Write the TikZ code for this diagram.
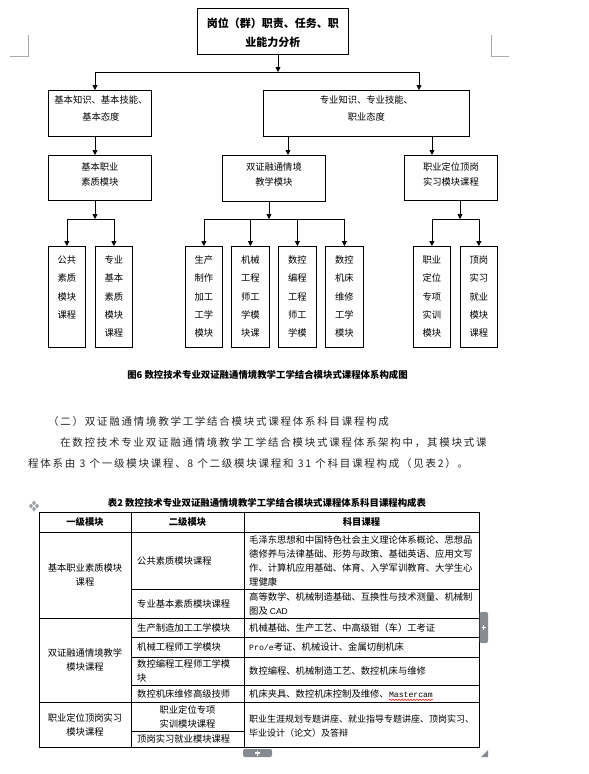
\documentclass[tikz,border=0pt]{standalone}
\usepackage{fontspec}
\setmainfont{Noto Sans CJK SC}
\newfontfamily\monofont{Liberation Mono}
\newfontfamily\arialfont{Liberation Sans}
\usetikzlibrary{arrows.meta,decorations.pathmorphing}
\definecolor{tabgray}{HTML}{868B92}
\definecolor{markgray}{HTML}{AAAAAA}
\definecolor{bodytext}{HTML}{262626}
\newcommand{\ptsize}[2]{\fontsize{#1}{#2}\selectfont}

\begin{document}
\begin{tikzpicture}[x=1pt,y=-1pt,
  box/.style={draw,line width=0.8pt,inner sep=0pt,anchor=north west},
  boxtext/.style={anchor=north,align=center,inner sep=0pt,font=\ptsize{9.3}{17}},
  leaftext/.style={boxtext,font=\ptsize{9.3}{18.3}},
  arr/.style={line width=0.8pt,-{Triangle[length=5pt,width=5pt]}},
  link/.style={line width=0.8pt},
  capline/.style={inner sep=0pt,font=\ptsize{9.4}{12}\bfseries},
  para/.style={anchor=west,inner sep=0pt,text=bodytext,font=\ptsize{10.5}{13}\addfontfeatures{LetterSpace=16.5}},
  cell/.style={anchor=west,align=left,inner sep=0pt,font=\ptsize{9.3}{14}},
  ccell/.style={cell,anchor=center,align=center},
  headcell/.style={ccell,font=\ptsize{9.3}{14}\bfseries},
  tablerule/.style={line width=0.8pt},
  cropmark/.style={markgray,line width=0.8pt},
  wavy/.style={red,line width=0.5pt,decorate,decoration={snake,amplitude=0.7pt,segment length=3pt}},
]
  \fill[white] (0,0) rectangle (589,774);
  \useasboundingbox (0,0) rectangle (589,774);

  \draw[cropmark] (28,35) -- (28,56) -- (10,56);
  \draw[cropmark] (491,35) -- (491,56) -- (509,56);

  \node[box,minimum width=151pt,minimum height=46pt] (duty) at (197,8) {};
  \node[boxtext,font=\ptsize{11}{19}\bfseries] (dutyt) at ([yshift=-9.8pt]duty.north) {岗位（群）职责、任务、职\\业能力分析};

  \node[box,minimum width=103pt,minimum height=46pt] (basic) at (48,90) {};
  \node[boxtext] (basict) at ([yshift=-5.6pt,xshift=1pt]basic.north) {基本知识、基本技能、\\基本态度};
  \node[box,minimum width=206pt,minimum height=46pt] (prof) at (263,90) {};
  \node[boxtext] (proft) at ([yshift=-5.6pt]prof.north) {专业知识、专业技能、\\职业态度};

  \node[box,minimum width=103pt,minimum height=45pt] (basicmod) at (48,155) {};
  \node[boxtext,font=\ptsize{9.3}{15}] (basicmodt) at ([yshift=-7.6pt]basicmod.north) {基本职业\\素质模块};
  \node[box,minimum width=103pt,minimum height=46pt] (dual) at (222,155) {};
  \node[boxtext,font=\ptsize{9.3}{15}] (dualt) at ([yshift=-7.6pt]dual.north) {双证融通情境\\教学模块};
  \node[box,minimum width=93pt,minimum height=45pt] (intern) at (404,155) {};
  \node[boxtext,font=\ptsize{9.3}{15}] (internt) at ([yshift=-7.6pt]intern.north) {职业定位顶岗\\实习模块课程};

  \node[box,minimum width=37pt,minimum height=101pt] (pub) at (48,246) {};
  \node[leaftext] (pubt) at ([yshift=-9.6pt]pub.north) {公共\\素质\\模块\\课程};
  \node[box,minimum width=37pt,minimum height=101pt] (major) at (95,246) {};
  \node[leaftext] (majort) at ([yshift=-9.6pt]major.north) {专业\\基本\\素质\\模块\\课程};
  \node[box,minimum width=37pt,minimum height=101pt] (prod) at (185,246) {};
  \node[leaftext] (prodt) at ([yshift=-9.6pt]prod.north) {生产\\制作\\加工\\工学\\模块};
  \node[box,minimum width=38pt,minimum height=101pt] (mech) at (231,246) {};
  \node[leaftext] (mecht) at ([yshift=-9.6pt]mech.north) {机械\\工程\\师工\\学模\\块课};
  \node[box,minimum width=38pt,minimum height=101pt] (prog) at (278,246) {};
  \node[leaftext] (progt) at ([yshift=-9.6pt]prog.north) {数控\\编程\\工程\\师工\\学模};
  \node[box,minimum width=38pt,minimum height=101pt] (repair) at (325,246) {};
  \node[leaftext] (repairt) at ([yshift=-9.6pt]repair.north) {数控\\机床\\维修\\工学\\模块};
  \node[box,minimum width=37pt,minimum height=101pt] (train) at (413,246) {};
  \node[leaftext] (traint) at ([yshift=-9.6pt]train.north) {职业\\定位\\专项\\实训\\模块};
  \node[box,minimum width=37pt,minimum height=101pt] (job) at (460,246) {};
  \node[leaftext] (jobt) at ([yshift=-9.6pt]job.north) {顶岗\\实习\\就业\\模块\\课程};

  \coordinate (j0) at (278,72);
  \coordinate (j0l) at (95,72);
  \coordinate (j0r) at (419,72);
  \coordinate (d0) at (95,0);
  \coordinate (d1) at (288,0);
  \coordinate (d2) at (432,0);
  \coordinate (j1) at (95,219);
  \coordinate (j2) at (269,219);
  \coordinate (j3) at (460,219);

  \draw[arr] (duty.south -| j0) -- (j0);
  \draw[link] (j0l) -- (j0r);
  \draw[arr] (j0l) -- (basic.north -| j0l);
  \draw[arr] (j0r) -- (prof.north -| j0r);
  \draw[arr] (basic.south -| d0) -- (basicmod.north -| d0);
  \draw[arr] (prof.south -| d1) -- (dual.north -| d1);
  \draw[arr] (prof.south -| d2) -- (intern.north -| d2);

  \draw[arr] (basicmod.south -| j1) -- (j1);
  \draw[link] (pub.north |- j1) -- (major.north |- j1);
  \draw[arr] (pub.north |- j1) -- (pub.north);
  \draw[arr] (major.north |- j1) -- (major.north);

  \draw[arr] (dual.south -| j2) -- (j2);
  \draw[link] (prod.north |- j2) -- (repair.north |- j2);
  \draw[arr] (prod.north |- j2) -- (prod.north);
  \draw[arr] (mech.north |- j2) -- (mech.north);
  \draw[arr] (prog.north |- j2) -- (prog.north);
  \draw[arr] (repair.north |- j2) -- (repair.north);

  \draw[arr] (intern.south -| j3) -- (j3);
  \draw[link] (train.north |- j3) -- (job.north |- j3);
  \draw[arr] (train.north |- j3) -- (train.north);
  \draw[arr] (job.north |- j3) -- (job.north);

  \node[capline] (figcap) at (267.5,375) {图6 数控技术专业双证融通情境教学工学结合模块式课程体系构成图};

  \node[para] (sec) at (48,422) {（二）双证融通情境教学工学结合模块式课程体系科目课程构成};
  \node[para] (body1) at (60,443) {在数控技术专业双证融通情境教学工学结合模块式课程体系架构中，其模块式课};
  \node[para] (body2) at (28,464) {程体系由\hspace{4.2pt}3\hspace{4.2pt}个一级模块课程、8\hspace{4.2pt}个二级模块课程和\hspace{4.2pt}31\hspace{4.2pt}个科目课程构成（见表2）。};

  \node[capline] (tabcap) at (267,503) {表2 数控技术专业双证融通情境教学工学结合模块式课程体系科目课程构成表};
  \fill[tabgray!80] (34,500.5) -- (36,503) -- (34,505.5) -- (32,503) -- cycle;
  \fill[tabgray!80] (34,506.5) -- (36,509) -- (34,511.5) -- (32,509) -- cycle;
  \fill[tabgray!80] (31,503.5) -- (33,506) -- (31,508.5) -- (29,506) -- cycle;
  \fill[tabgray!80] (37,503.5) -- (39,506) -- (37,508.5) -- (35,506) -- cycle;

  \draw[tablerule] (39,512) rectangle (479,747);
  \draw[tablerule] (131,512) -- (131,747);
  \draw[tablerule] (244,512) -- (244,747);
  \draw[tablerule] (39,532) -- (479,532);
  \draw[tablerule] (39,618) -- (479,618);
  \draw[tablerule] (39,702) -- (479,702);
  \draw[tablerule] (131,589) -- (479,589);
  \draw[tablerule] (131,637) -- (479,637);
  \draw[tablerule] (131,657) -- (479,657);
  \draw[tablerule] (131,685) -- (479,685);
  \draw[tablerule] (131,731) -- (244,731);

  \node[headcell] (h1) at (85,522) {一级模块};
  \node[headcell] (h2) at (187.5,522) {二级模块};
  \node[headcell] (h3) at (361.5,522) {科目课程};

  \node[ccell] (g1) at (85,575) {基本职业素质模块\\课程};
  \node[cell] (s1) at (137,560.5) {公共素质模块课程};
  \node[cell] (s2) at (137,603.5) {专业基本素质模块课程};
  \node[cell] (k1) at (249,560.5) {毛泽东思想和中国特色社会主义理论体系概论、思想品\\德修养与法律基础、形势与政策、基础英语、应用文写\\作、计算机应用基础、体育、入学军训教育、大学生心\\理健康};
  \node[cell] (k2) at (249,603.5) {高等数学、机械制造基础、互换性与技术测量、机械制\\图及 {\arialfont\ptsize{8.5}{14}CAD}};

  \node[ccell] (g2) at (85,660) {双证融通情境教学\\模块课程};
  \node[cell] (s3) at (137,627.5) {生产制造加工工学模块};
  \node[cell] (s4) at (137,647) {机械工程师工学模块};
  \node[cell] (s5) at (137,671) {数控编程工程师工学模\\块};
  \node[cell] (s6) at (137,693.5) {数控机床维修高级技师};
  \node[cell] (k3) at (249,627.5) {机械基础、生产工艺、中高级钳（车）工考证};
  \node[cell] (k4) at (249,647) {{\monofont\ptsize{8.2}{14}Pro/e}考证、机械设计、金属切削机床};
  \node[cell] (k5) at (249,671) {数控编程、机械制造工艺、数控机床与维修};
  \node[cell] (k6) at (249,693.5) {机床夹具、数控机床控制及维修、};
  \node[cell,anchor=base west] (mcam) at (k6.base east) {\monofont\ptsize{8.1}{14}Mastercam};
  \draw[wavy] ([yshift=-2.5pt]mcam.south west) -- ([yshift=-2.5pt]mcam.south east);

  \node[ccell] (g3) at (85,725) {职业定位顶岗实习\\模块课程};
  \node[ccell] (s7) at (187.5,716.5) {职业定位专项\\实训模块课程};
  \node[cell] (s8) at (137,739) {顶岗实习就业模块课程};
  \node[cell,font=\ptsize{9}{14}] (k7) at (249,726) {职业生涯规划专题讲座、就业指导专题讲座、顶岗实习、\\毕业设计（论文）及答辩};

  \fill[tabgray,rounded corners=2pt] (479.5,612) rectangle (488,643);
  \draw[white,line width=1.2pt] (481.5,627.5) -- (486,627.5) (483.75,625.25) -- (483.75,629.75);
  \fill[tabgray,rounded corners=2pt] (243,749) rectangle (272,757);
  \draw[white,line width=1.2pt] (255,753) -- (260,753) (257.5,750.5) -- (257.5,755.5);
  \fill[tabgray] (488,750) -- (488,757) -- (481,757) -- cycle;
\end{tikzpicture}
\end{document}
